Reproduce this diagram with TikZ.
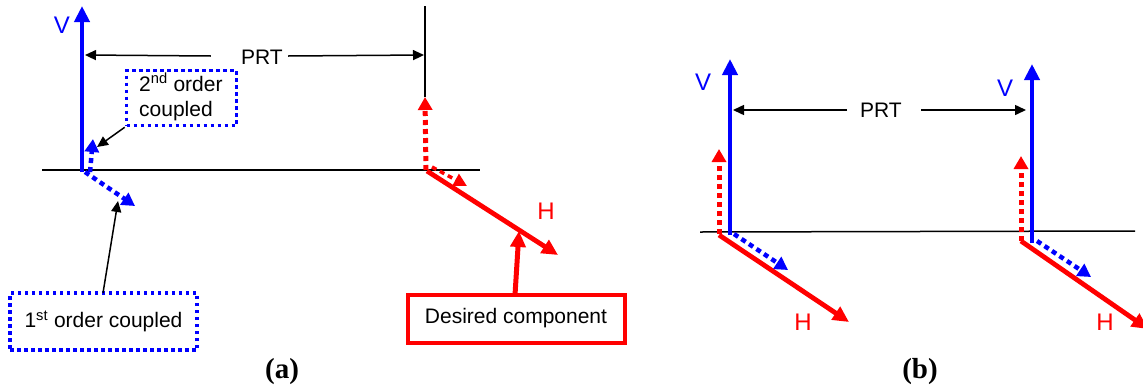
\documentclass[tikz,border=0pt]{standalone}
\usepackage{fontspec}
\setmainfont{Liberation Serif}
\newfontfamily\arial{Liberation Sans}
\usetikzlibrary{arrows.meta}
\definecolor{pblue}{RGB}{0,0,255}
\definecolor{pred}{RGB}{255,0,0}
\tikzset{
  vec/.style={line width=4.8pt, -{Triangle[length=16pt,width=15pt]}},
  dotvec/.style={line width=5pt, dash pattern=on 5pt off 4pt, -{Triangle[length=13pt,width=14pt]}},
  thinarr/.style={line width=1.5pt, black, -{Triangle[length=11pt,width=10pt]}},
  hline/.style={line width=1.5pt, black},
  lbl/.style={font=\arial\fontsize{24}{26}\selectfont, inner sep=0pt},
  txt/.style={font=\arial\fontsize{21}{25}\selectfont, inner sep=0pt},
  dotbox/.style={draw=pblue, line width=3.5pt, dash pattern=on 3.5pt off 3.5pt, inner sep=0pt},
  redbox/.style={draw=pred, line width=4pt, inner sep=0pt},
  captxt/.style={font=\bfseries\fontsize{29}{32}\selectfont, inner sep=0pt}
}
\begin{document}
\begin{tikzpicture}[x=1pt,y=-1pt]
\useasboundingbox (0,0) rectangle (1143,389);

% ---------------- panel (a) ----------------
\coordinate (aL) at (42,170);
\coordinate (aR) at (480,170);
\draw[hline] (aL) -- (aR);

\coordinate (a0) at (82,172);
\coordinate (aVtip) at (82,6);
\draw[vec, pblue] (a0) -- (aVtip);
\node[lbl, text=pblue] (aV) at (62,25) {V};

\coordinate (aBl1) at (90,172);
\coordinate (aBl1t) at (93,139);
\draw[dotvec, pblue, line width=4.5pt] (aBl1) -- (aBl1t);
\coordinate (aBl2) at (85,172);
\coordinate (aBl2t) at (135,206);
\draw[dotvec, pblue, line width=4.5pt] (aBl2) -- (aBl2t);

\coordinate (aTop) at (425,6);
\coordinate (aMid) at (425,97);
\draw[hline] (aTop) -- (aMid);

\coordinate (aR0) at (426,170);
\draw[dotvec, pred] (aR0) -- (aMid);
\coordinate (aH0) at (427,171);
\coordinate (aHt) at (558,255);
\draw[vec, pred] (aH0) -- (aHt);
\coordinate (aS0) at (432,167);
\coordinate (aSt) at (467,186);
\draw[dotvec, pred, line width=3.5pt, -{Triangle[length=13pt,width=13pt]}] (aS0) -- (aSt);
\node[lbl, text=pred] (aH) at (546,211) {H};

% PRT dimension (a)
\node[txt] (aPRT) at (262,57) {PRT};
\coordinate (aP1) at (85,55);
\coordinate (aP2) at (424,55);
\draw[thinarr] (aPRT.west) ++(-30,-1) coordinate (aPl) -- (aP1);
\draw[thinarr] (aPRT.east) ++(5,-1) coordinate (aPr) -- (aP2);

% 2nd order box
\node[dotbox, minimum width=110pt, minimum height=55pt] (box2) at (181.5,98) {};
\node[txt, anchor=north west, align=left] (box2t) at (139,73) {2\textsuperscript{nd} order\\coupled};
\coordinate (aA2) at (97,147);
\draw[thinarr] (box2.south west) -- (aA2);

% 1st order box
\node[dotbox, txt, minimum width=187pt, minimum height=57pt] (box1) at (103.5,321.5) {1\textsuperscript{st} order coupled};
\coordinate (aA1) at (118,201);
\draw[thinarr] (103,293) coordinate (aB1top) -- (aA1);

% desired component
\node[redbox, minimum width=217pt, minimum height=48pt, txt] (boxD) at (516,318.5) {Desired component\hspace{8pt}};
\coordinate (aDt) at (519,231);
\draw[vec, pred, line width=5pt] (515,295) coordinate (aDb) -- (aDt);

\node[captxt] (capA) at (282,372) {(a)};

% ---------------- panel (b) ----------------
\coordinate (bL) at (700,232);
\coordinate (bR) at (1135,231);
\draw[hline] (bL) -- (bR);

% left group
\coordinate (b10) at (730,235);
\coordinate (b1Vt) at (730,59);
\draw[vec, pblue] (b10) -- (b1Vt);
\node[lbl, text=pblue] (b1V) at (703,82) {V};
\coordinate (b1R0) at (719,234);
\coordinate (b1Rt) at (719,149);
\draw[dotvec, pred] (b1R0) -- (b1Rt);
\coordinate (b1H0) at (719,235);
\coordinate (b1Ht) at (849,322);
\draw[vec, pred] (b1H0) -- (b1Ht);
\coordinate (b1B0) at (734,234);
\coordinate (b1Bt) at (788,270);
\draw[dotvec, pblue, line width=4.5pt] (b1B0) -- (b1Bt);
\node[lbl, text=pred] (b1H) at (803,322) {H};

% right group
\coordinate (b20) at (1032,243);
\coordinate (b2Vt) at (1032,64);
\draw[vec, pblue] (b20) -- (b2Vt);
\node[lbl, text=pblue] (b2V) at (1005,88) {V};
\coordinate (b2R0) at (1021,241);
\coordinate (b2Rt) at (1021,156);
\draw[dotvec, pred] (b2R0) -- (b2Rt);
\coordinate (b2H0) at (1021,241);
\coordinate (b2Ht) at (1148,329);
\draw[vec, pred] (b2H0) -- (b2Ht);
\coordinate (b2B0) at (1037,241);
\coordinate (b2Bt) at (1091,277);
\draw[dotvec, pblue, line width=4.5pt] (b2B0) -- (b2Bt);
\node[lbl, text=pred] (b2H) at (1105,322) {H};

% PRT (b)
\node[txt] (bPRT) at (881,110) {PRT};
\coordinate (bP1) at (733,110);
\coordinate (bP2) at (1026,110);
\draw[thinarr] (847,110) coordinate (bPl) -- (bP1);
\draw[thinarr] (921,110) coordinate (bPr) -- (bP2);

\node[captxt] (capB) at (920,372) {(b)};
\end{tikzpicture}
\end{document}
